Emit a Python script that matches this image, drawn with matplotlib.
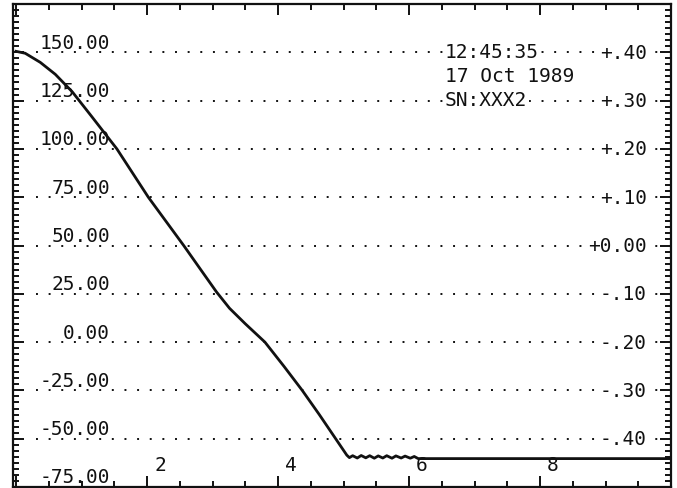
import matplotlib.pyplot as plt
from matplotlib.ticker import MultipleLocator

# curve (x in plot units, y in left-axis units)
curve_x = [0.0, 0.14, 0.37, 0.6, 0.86, 1.15, 1.54, 1.78, 2.02, 2.29, 2.56, 2.82,
           3.06, 3.26, 3.5, 3.8, 4.09, 4.37, 4.63, 4.88, 5.05,
           5.09, 5.14, 5.21, 5.27, 5.34, 5.40, 5.47, 5.53, 5.60, 5.66, 5.74, 5.80,
           5.88, 5.94, 6.02, 6.08, 6.14, 10.0]
curve_y = [150.5, 149.5, 144.8, 138.6, 129.5, 117.0, 100.0, 87.5, 75.0, 62.5, 50.0, 37.5,
           26.0, 17.5, 9.5, 0.0, -12.5, -25.0, -37.5, -50.0, -58.5,
           -59.8, -58.8, -60.0, -58.7, -59.9, -58.8, -60.1, -58.9, -60.0, -58.8, -60.1, -58.9,
           -60.0, -59.0, -60.1, -59.2, -60.3, -60.3]

left_ticks = [150, 125, 100, 75, 50, 25, 0, -25, -50, -75]
left_labels = ['150.00', '125.00', '100.00', '75.00', '50.00', '25.00', '0.00',
               '-25.00', '-50.00', '-75.00']
right_labels = ['+.40', '+.30', '+.20', '+.10', '+0.00', '-.10', '-.20', '-.30', '-.40']
x_ticks = [2, 4, 6, 8]
stamp = ['12:45:35', '17 Oct 1989', 'SN:XXX2']

ink = '#111111'
font = dict(family='DejaVu Sans Mono', fontsize=14, color=ink)

fig = plt.figure(figsize=(6.77, 4.89), dpi=100)
ax = fig.add_axes([13 / 677, 1 / 489, 658 / 677, 483 / 489])
ax.set_xlim(-0.046, 10)
ax.set_ylim(-75, 175)

# dotted grid lines at the left-axis values
for v in left_ticks[:-1]:
    ax.axhline(v, xmin=0.035, xmax=0.99, color=ink, lw=1.4,
               linestyle=(0, (1, 5.5)), zorder=1)

ax.plot(curve_x, curve_y, color=ink, lw=2.0, zorder=3)

# left labels sit just above their grid line
for v, s in zip(left_ticks, left_labels):
    ax.text(1.435, v + 5.2, s, ha='right', va='center', zorder=4, **font)

# right labels centred on the grid lines
for v, s in zip(left_ticks[:-1], right_labels):
    ax.text(9.63, v, s, ha='right', va='center', zorder=4,
            bbox=dict(fc='white', ec='none', pad=1), **font)

for v in x_ticks:
    ax.text(v + 0.2, -63.5, str(v), ha='center', va='center', zorder=4, **font)

for i, s in enumerate(stamp):
    ax.text(6.55, 150.5 - 12.4 * i, s, ha='left', va='center', zorder=4,
            bbox=dict(fc='white', ec='none', pad=1), **font)

for sp in ax.spines.values():
    sp.set_linewidth(1.6)
    sp.set_color(ink)

ax.xaxis.set_major_locator(MultipleLocator(2))
ax.xaxis.set_minor_locator(MultipleLocator(0.5))
ax.yaxis.set_major_locator(MultipleLocator(25))
ax.yaxis.set_minor_locator(MultipleLocator(25 / 8))
ax.tick_params(which='both', direction='in', top=True, bottom=True, left=True,
               right=True, labelbottom=False, labelleft=False, color=ink, width=1.4)
ax.tick_params(which='major', length=8)
ax.tick_params(which='minor', length=4)

plt.savefig('out.png', dpi=100)
